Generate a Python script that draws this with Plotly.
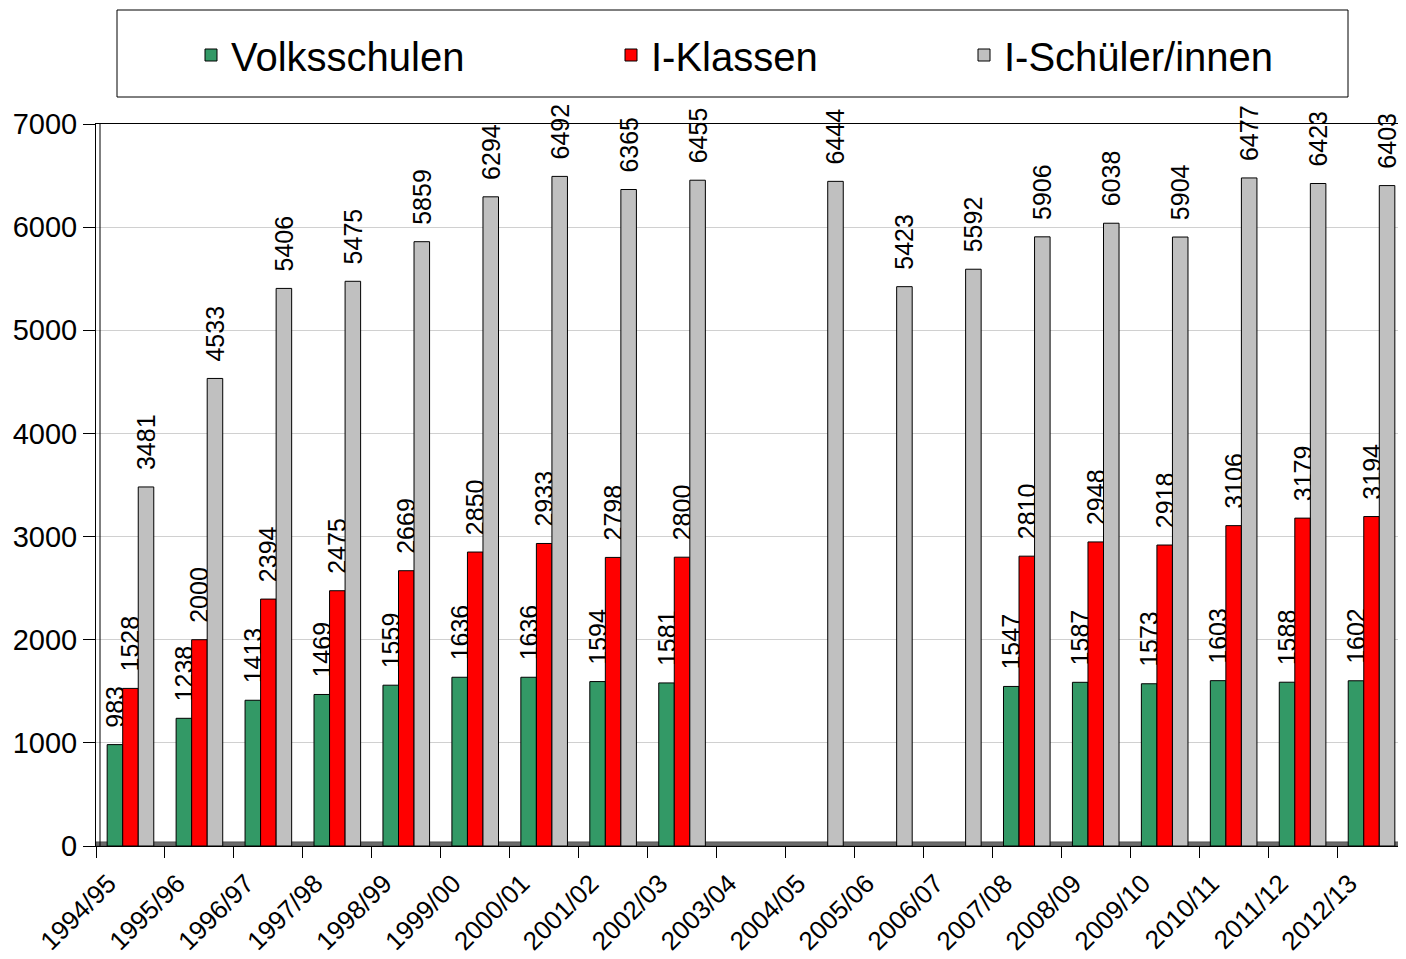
import plotly.graph_objects as go

categories = ["1994/95", "1995/96", "1996/97", "1997/98", "1998/99", "1999/00",
              "2000/01", "2001/02", "2002/03", "2003/04", "2004/05", "2005/06",
              "2006/07", "2007/08", "2008/09", "2009/10", "2010/11", "2011/12",
              "2012/13"]
volksschulen = [983, 1238, 1413, 1469, 1559, 1636, 1636, 1594, 1581,
                None, None, None, None, 1547, 1587, 1573, 1603, 1588, 1602]
i_klassen = [1528, 2000, 2394, 2475, 2669, 2850, 2933, 2798, 2800,
             None, None, None, None, 2810, 2948, 2918, 3106, 3179, 3194]
i_schueler = [3481, 4533, 5406, 5475, 5859, 6294, 6492, 6365, 6455,
              None, 6444, 5423, 5592, 5906, 6038, 5904, 6477, 6423, 6403]
y_ticks = [0, 1000, 2000, 3000, 4000, 5000, 6000, 7000]

FONT = "Liberation Sans, Arial, sans-serif"
OFF = 8  # default page body margin
W, H = 1406 - OFF, 959 - OFF
L, R, T = 96 - OFF, 0, 124 - OFF
B = H - (846 - OFF)
PW, PH = W - L - R, H - T - B


def px_x(px):
    return (px - OFF - L) / PW


def px_y(py):
    return (H - B - (py - OFF)) / PH


series = [
    ("Volksschulen", volksschulen, "#339966", "legend"),
    ("I-Klassen", i_klassen, "#FF0000", "legend2"),
    ("I-Schüler/innen", i_schueler, "#C0C0C0", "legend3"),
]

fig = go.Figure()
for name, vals, color, leg in series:
    fig.add_trace(go.Bar(
        name=name, x=categories, y=vals,
        marker=dict(color=color, line=dict(color="black", width=1)),
        text=["" if v is None else "\u00a0\u00a0" + str(v) for v in vals],
        textposition="outside", textangle=-90,
        textfont=dict(family=FONT, size=25, color="black"),
        cliponaxis=False, constraintext="none",
        legend=leg, showlegend=True,
    ))

leg_common = dict(orientation="h", yanchor="middle", xanchor="left",
                  font=dict(family=FONT, size=40, color="black"),
                  bgcolor="rgba(0,0,0,0)", borderwidth=0, visible=True)
y_leg = px_y(55)

fig.update_layout(
    width=W, height=H,
    margin=dict(l=L, r=R, t=T, b=B, autoexpand=False),
    paper_bgcolor="white", plot_bgcolor="white",
    showlegend=True,
    barmode="group", bargap=0.324, bargroupgap=0,
    font=dict(family=FONT, color="black"),
    legend=dict(x=px_x(191), y=y_leg, **leg_common),
    legend2=dict(x=px_x(611), y=y_leg, **leg_common),
    legend3=dict(x=px_x(964), y=y_leg, **leg_common),
    xaxis=dict(
        type="category", tickson="boundaries", tickangle=-45,
        ticks="outside", ticklen=11, tickcolor="black",
        ticklabelshift=-22, ticklabelstandoff=11,
        tickfont=dict(family=FONT, size=26, color="black"),
        showgrid=False, showline=True, linecolor="black", linewidth=1,
        mirror=True, automargin=False, range=[-0.5, 18.5],
    ),
    yaxis=dict(
        range=[0, 7000], tickvals=y_ticks,
        ticks="outside", ticklen=12, tickcolor="black",
        tickfont=dict(family=FONT, size=29, color="black"),
        showgrid=True, gridcolor="#D0D0D0", gridwidth=1,
        showline=True, linecolor="black", linewidth=1,
        zeroline=False, automargin=False,
    ),
    shapes=[
        dict(type="rect", xref="paper", yref="paper",
             x0=px_x(117), x1=px_x(1348), y0=px_y(97), y1=px_y(10),
             line=dict(color="black", width=1), fillcolor="rgba(0,0,0,0)"),
        dict(type="rect", xref="paper", yref="y", x0=0, x1=1, y0=0, y1=40,
             line=dict(color="#333333", width=0.5), fillcolor="#6B6B6B",
             layer="below"),
        dict(type="line", xref="paper", yref="paper",
             x0=px_x(100), x1=px_x(100), y0=0, y1=1,
             line=dict(color="black", width=1)),
    ],
)

fig.write_html("out.html")
